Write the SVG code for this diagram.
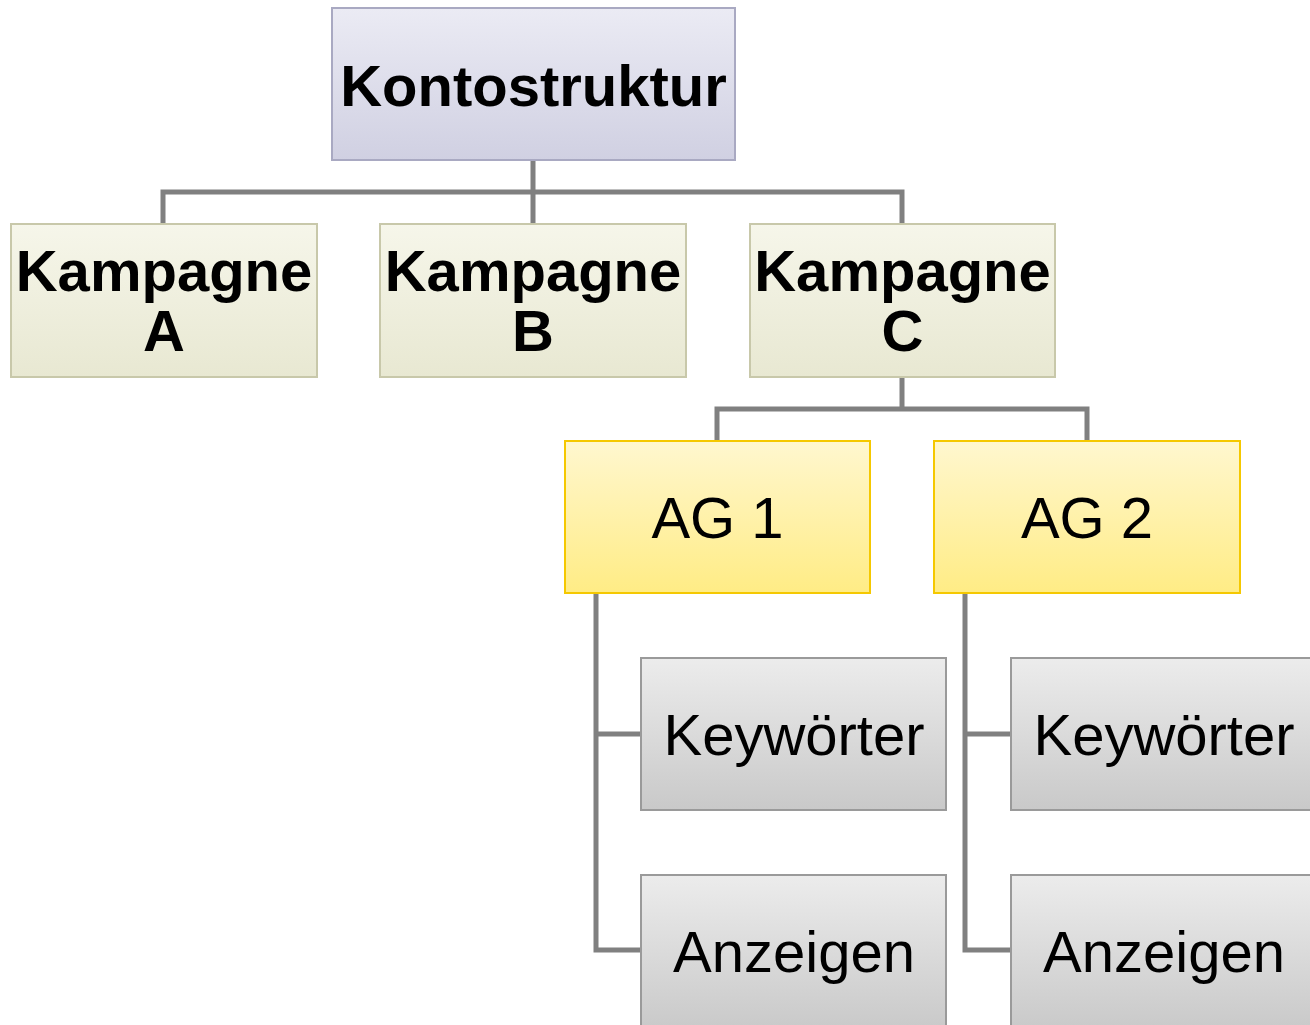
<svg xmlns="http://www.w3.org/2000/svg" width="1310" height="1025" viewBox="0 0 1310 1025">
<defs>
<linearGradient id="gTop" x1="0" y1="0" x2="0" y2="1"><stop offset="0" stop-color="#ebebf4"/><stop offset="1" stop-color="#d0d0e2"/></linearGradient>
<linearGradient id="gCamp" x1="0" y1="0" x2="0" y2="1"><stop offset="0" stop-color="#f6f6ea"/><stop offset="1" stop-color="#e8e8d2"/></linearGradient>
<linearGradient id="gAG" x1="0" y1="0" x2="0" y2="1"><stop offset="0" stop-color="#fff7cf"/><stop offset="1" stop-color="#ffec85"/></linearGradient>
<linearGradient id="gGrey" x1="0" y1="0" x2="0" y2="1"><stop offset="0" stop-color="#ececec"/><stop offset="1" stop-color="#c9c9c9"/></linearGradient>
</defs>
<style>
.t{font-family:"Liberation Sans",Arial,sans-serif;font-size:58px;fill:#000;text-anchor:middle}
.b{font-weight:bold}
.top{fill:url(#gTop);stroke:#a9a9c2;stroke-width:2}
.camp{fill:url(#gCamp);stroke:#c8c8aa;stroke-width:2}
.ag{fill:url(#gAG);stroke:#f5c800;stroke-width:2}
.grey{fill:url(#gGrey);stroke:#9a9a9a;stroke-width:2}
.c{fill:none;stroke:#808080;stroke-width:5}
</style>
<rect width="1310" height="1025" fill="#fff"/>
<g id="connectors">
<path class="c" d="M533 160V192M163 224V192H902V224M533 192V224"/>
<path class="c" d="M902 377V409M717 441V409H1087V441"/>
<path class="c" d="M596 593V950H641M596 734H641"/>
<path class="c" d="M965 593V950H1011M965 734H1011"/>
</g>
<g id="kontostruktur"><rect class="top" x="332" y="8" width="403" height="152"/><text class="t b" x="533.5" y="106">Kontostruktur</text></g>
<g id="kampagneA"><rect class="camp" x="11" y="224" width="306" height="153"/><text class="t b" x="164" y="291">Kampagne</text><text class="t b" x="164" y="351">A</text></g>
<g id="kampagneB"><rect class="camp" x="380" y="224" width="306" height="153"/><text class="t b" x="533" y="291">Kampagne</text><text class="t b" x="533" y="351">B</text></g>
<g id="kampagneC"><rect class="camp" x="750" y="224" width="305" height="153"/><text class="t b" x="902.5" y="291">Kampagne</text><text class="t b" x="902.5" y="351">C</text></g>
<g id="ag1"><rect class="ag" x="565" y="441" width="305" height="152"/><text class="t" x="717.5" y="538">AG 1</text></g>
<g id="ag2"><rect class="ag" x="934" y="441" width="306" height="152"/><text class="t" x="1087" y="538">AG 2</text></g>
<g id="keywords1"><rect class="grey" x="641" y="658" width="305" height="152"/><text class="t" x="794" y="755">Keywörter</text></g>
<g id="anzeigen1"><rect class="grey" x="641" y="875" width="305" height="155"/><text class="t" x="794" y="972">Anzeigen</text></g>
<g id="keywords2"><rect class="grey" x="1011" y="658" width="305" height="152"/><text class="t" x="1164" y="755">Keywörter</text></g>
<g id="anzeigen2"><rect class="grey" x="1011" y="875" width="305" height="155"/><text class="t" x="1164" y="972">Anzeigen</text></g>
</svg>
